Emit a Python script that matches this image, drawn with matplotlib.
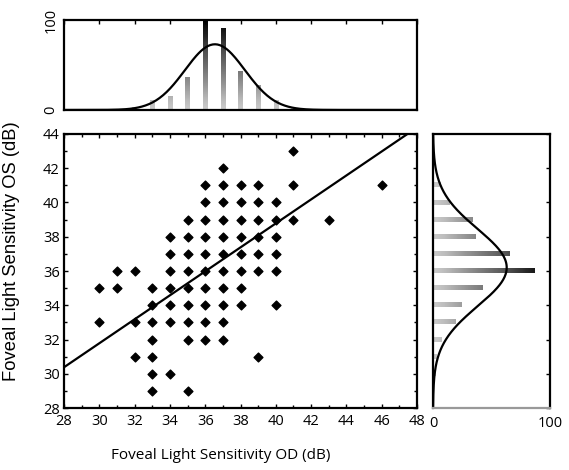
import matplotlib
matplotlib.use("Agg")
import matplotlib.pyplot as plt
import numpy as np
from matplotlib.ticker import MultipleLocator

# scatter data: light sensitivity OD (x) vs OS (y), dB
od = [30, 30, 31, 31, 32, 32, 32,
      33, 33, 33, 33, 33, 33, 33,
      34, 34, 34, 34, 34, 34, 34,
      35, 35, 35, 35, 35, 35, 35, 35, 35,
      36, 36, 36, 36, 36, 36, 36, 36, 36, 36,
      37, 37, 37, 37, 37, 37, 37, 37, 37, 37, 37,
      38, 38, 38, 38, 38, 38, 38, 38,
      39, 39, 39, 39, 39, 39, 39,
      40, 40, 40, 40, 40, 40,
      41, 41, 41, 43, 46]
os_ = [35, 33, 36, 35, 36, 33, 31,
       35, 34, 33, 32, 31, 30, 29,
       38, 37, 36, 35, 34, 33, 30,
       39, 38, 37, 36, 35, 34, 33, 32, 29,
       41, 40, 39, 38, 37, 36, 35, 34, 33, 32,
       42, 41, 40, 39, 38, 37, 36, 35, 34, 33, 32,
       41, 40, 39, 38, 37, 36, 35, 34,
       41, 40, 39, 38, 37, 36, 31,
       40, 39, 38, 37, 36, 34,
       43, 41, 39, 39, 41]

# regression line
line_intercept = 30.38   # value at x = 28
line_slope = 0.70

# marginal histograms (counts, 0-100 scale)
od_bins = [30, 31, 32, 33, 34, 35, 36, 37, 38, 39, 40, 41]
od_counts = [1, 1, 3, 11, 15, 36, 98, 91, 43, 27, 10, 3]
os_bins = [30, 31, 32, 33, 34, 35, 36, 37, 38, 39, 40, 41]
os_counts = [2, 3, 7, 19, 24, 42, 87, 65, 36, 34, 14, 6]

# fitted normal curves: mean, sd, peak height
od_fit = (36.55, 1.7, 73)
os_fit = (36.2, 2.25, 63)


def gradient_bar(ax, pos, length, width, horizontal=False):
    grad = np.linspace(0, length, 60).reshape(-1, 1)
    if horizontal:
        grad = grad.T
        extent = [0, length, pos - width / 2, pos + width / 2]
    else:
        extent = [pos - width / 2, pos + width / 2, 0, length]
    ax.imshow(grad, extent=extent, origin="lower", aspect="auto",
              cmap="Greys", vmin=-45, vmax=100, interpolation="bilinear")


plt.rcParams["font.family"] = ["Open Sans", "DejaVu Sans"]

fig = plt.figure(figsize=(5.69, 4.70), dpi=100)
ax = fig.add_axes([0.1125, 0.1319, 0.6204, 0.583])
ax_top = fig.add_axes([0.1125, 0.766, 0.6204, 0.1915])
ax_right = fig.add_axes([0.761, 0.1319, 0.2056, 0.583])

# main scatter
ax.scatter(od, os_, marker="D", s=20, color="black", zorder=3)
xs = np.array([28, 48])
ax.plot(xs, line_intercept + line_slope * (xs - 28), color="black", lw=1.6)
ax.set_xlim(28, 48)
ax.set_ylim(28, 44)
ax.xaxis.set_major_locator(MultipleLocator(2))
ax.yaxis.set_major_locator(MultipleLocator(2))
ax.xaxis.set_minor_locator(MultipleLocator(1))
ax.yaxis.set_minor_locator(MultipleLocator(1))
ax.tick_params(which="both", direction="in", top=True, right=True, labelsize=10.5)
ax.tick_params(axis="x", pad=4)
ax.tick_params(axis="y", pad=3)
ax.tick_params(which="major", length=3, width=1)
ax.tick_params(which="minor", length=2, width=1)
for s in ax.spines.values():
    s.set_linewidth(1.6)
ax.set_xlabel("Foveal Light Sensitivity OD (dB)", fontsize=11)
ax.xaxis.set_label_coords(0.445, -0.145)
ax.set_ylabel("Foveal Light Sensitivity OS (dB)", fontsize=13.2,
              family=["Liberation Sans", "DejaVu Sans"])
ax.yaxis.set_label_coords(-0.125, 0.573)

# top histogram
for b, c in zip(od_bins, od_counts):
    gradient_bar(ax_top, b, c, 0.24)
gx = np.linspace(28, 48, 300)
mu, sd, peak = od_fit
ax_top.plot(gx, peak * np.exp(-(gx - mu) ** 2 / (2 * sd ** 2)), color="black", lw=1.6)
ax_top.set_xlim(28, 48)
ax_top.set_ylim(0, 100)
ax_top.xaxis.set_major_locator(MultipleLocator(2))
ax_top.tick_params(axis="x", direction="in", top=True, bottom=False,
                   labelbottom=False, length=3, width=1)
ax_top.set_yticks([0, 100])
ax_top.tick_params(axis="y", length=0, labelsize=10.5, pad=4)
for lbl in ax_top.get_yticklabels():
    lbl.set_rotation(90)
    lbl.set_va("center")
for s in ax_top.spines.values():
    s.set_linewidth(1.6)

# right histogram
for b, c in zip(os_bins, os_counts):
    gradient_bar(ax_right, b, c, 0.24, horizontal=True)
gy = np.linspace(28, 44, 300)
mu, sd, peak = os_fit
ax_right.plot(peak * np.exp(-(gy - mu) ** 2 / (2 * sd ** 2)), gy, color="black", lw=1.6)
ax_right.set_ylim(28, 44)
ax_right.set_xlim(0, 100)
ax_right.set_xticks([0, 100])
ax_right.tick_params(axis="x", length=0, labelsize=10.5, pad=6)
ax_right.yaxis.set_major_locator(MultipleLocator(2))
ax_right.tick_params(axis="y", direction="in", left=False, right=True,
                     labelleft=False, length=3, width=1)
for s in ax_right.spines.values():
    s.set_linewidth(1.6)
ax_right.spines["bottom"].set_color("#999999")

fig.savefig("out.png", dpi=100)
